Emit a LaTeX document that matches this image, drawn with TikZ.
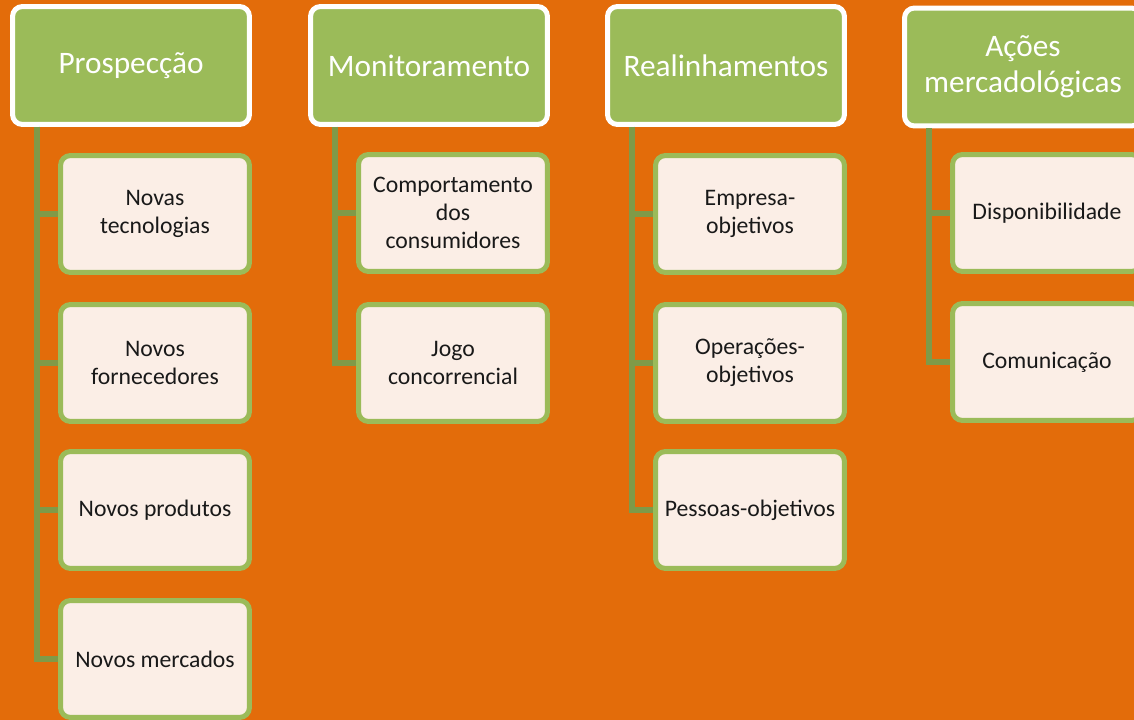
\documentclass[tikz,border=0pt]{standalone}
\usepackage{fontspec}
\setmainfont{Carlito}
\usetikzlibrary{positioning}
\definecolor{bgorange}{HTML}{E36C0A}
\definecolor{leafgreen}{HTML}{9BBB59}
\definecolor{stemgreen}{HTML}{7F9A48}
\definecolor{paper}{HTML}{FBEEE6}
\begin{document}
\begin{tikzpicture}[x=.02cm,y=-.02cm,
head/.style={draw=white,line width=.1cm,fill=leafgreen,rounded corners=.2cm,
  minimum width=4.74cm,minimum height=2.36cm,inner sep=0pt,align=center,
  text=white,font=\fontsize{17.8}{20.5}\selectfont},
item/.style={draw=leafgreen,line width=.1cm,fill=paper,rounded corners=.2cm,
  minimum width=3.78cm,minimum height=2.34cm,inner sep=0pt,align=center,
  text=black!90,font=\fontsize{13.5}{16}\selectfont},
link/.style={draw=stemgreen,line width=.11cm}]
\useasboundingbox (0,0) rectangle (1134,720);
\fill[bgorange] (0,0) rectangle (1134,720);
% headers
\node[head] (pro) at (131,65.5) {Prospecção};
\node[head] (mon) at (429,65.5) {Monitoramento};
\node[head] (rea) at (726,65.5) {Realinhamentos};
\node[head] (aco) at (1023,67) {Ações\\mercadológicas};
% Prospeccao
\node[item] (pro1) at (155,214) {Novas\\tecnologias};
\node[item] (pro2) at (155,363) {Novos\\fornecedores};
\node[item] (pro3) at (155,510) {Novos produtos};
\node[item] (pro4) at (155,659) {Novos mercados};
% Monitoramento
\node[item] (mon1) at (453,213) {Comportamento\\dos\\consumidores};
\node[item] (mon2) at (453,363) {Jogo\\concorrencial};
% Realinhamentos
\node[item] (rea1) at (750,214) {Empresa-\\objetivos};
\node[item] (rea2) at (750,363) {Operações-\\objetivos};
\node[item] (rea3) at (750,510) {Pessoas-objetivos};
% Acoes mercadologicas
\node[item] (aco1) at (1047,213) {Disponibilidade};
\node[item] (aco2) at (1047,362) {Comunicação};
% connectors
\draw[link]([xshift=.54cm]pro.south west)|-(pro1.west);
\draw[link]([xshift=.54cm]pro.south west)|-(pro2.west);
\draw[link]([xshift=.54cm]pro.south west)|-(pro3.west);
\draw[link]([xshift=.54cm]pro.south west)|-(pro4.west);
\draw[link]([xshift=.54cm]mon.south west)|-(mon1.west);
\draw[link]([xshift=.54cm]mon.south west)|-(mon2.west);
\draw[link]([xshift=.54cm]rea.south west)|-(rea1.west);
\draw[link]([xshift=.54cm]rea.south west)|-(rea2.west);
\draw[link]([xshift=.54cm]rea.south west)|-(rea3.west);
\draw[link]([xshift=.54cm]aco.south west)|-(aco1.west);
\draw[link]([xshift=.54cm]aco.south west)|-(aco2.west);
\end{tikzpicture}
\end{document}
